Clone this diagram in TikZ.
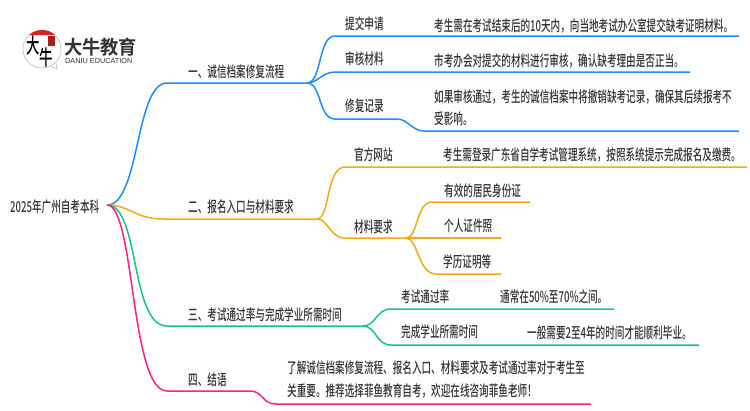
\documentclass[tikz,border=0pt]{standalone}
\usepackage{xcolor}
\usepackage{fontspec}
\setmainfont{Noto Sans CJK SC}
\newfontfamily\cjkthin[FakeStretch=0.64]{Noto Sans CJK SC Medium}
\newfontfamily\cjkbold[FakeStretch=0.95]{Noto Sans CJK SC Bold}
\newfontfamily\logolatin{Liberation Sans}
\definecolor{lineblue}{HTML}{1E8CFA}
\definecolor{lineorange}{HTML}{F5A81C}
\definecolor{linegreen}{HTML}{14C77E}
\definecolor{linepink}{HTML}{FB2283}
\definecolor{inkgrey}{HTML}{333333}
\definecolor{logored}{HTML}{D9231F}
\tikzset{
  lab/.style={anchor=west,inner sep=0pt,yshift=-1.5pt,text=inkgrey,font=\cjkthin\fontsize{15}{22.5}\selectfont},
  bluebr/.style={draw=lineblue,line width=1.5pt},
  orangebr/.style={draw=lineorange,line width=1.5pt},
  greenbr/.style={draw=linegreen,line width=1.5pt},
  pinkbr/.style={draw=linepink,line width=1.5pt},
}
\begin{document}
\begin{tikzpicture}[x=1pt,y=-1pt]
  \useasboundingbox (0,0) rectangle (750,410);
  % logo
  \draw[gray!60,line width=0.5pt,fill=white] (42,49) circle (19);
  \draw[gray!60,line width=0.5pt] (50,66.5) -- (57,68.5) -- (56,63);
  \fill[logored] (29.2,35) arc (227.5:312.5:19) -- cycle;
  \fill[logored!80!black] (47.5,36) rectangle (54.5,46);
  \node[inner sep=0pt,font=\cjkthin\fontsize{21}{21}\selectfont,text=black] (logoa) at (33,45) {大};
  \node[inner sep=0pt,font=\cjkthin\fontsize{21}{21}\selectfont,text=black] (logob) at (46,58) {牛};
  \node[anchor=west,inner sep=0pt,font=\cjkbold\fontsize{19.2}{19}\selectfont,text=inkgrey] (logoname) at (64,47.5) {大牛教育};
  \node[anchor=west,inner sep=0pt,font=\logolatin\fontsize{7.3}{8}\selectfont,text=inkgrey] (logoen) at (65,60.5) {DANIU EDUCATION};
  % root
  \node[lab] (root) at (10,205) {2025年广州自考本科};
  \coordinate (rootend) at (107,205);
  % first level labels
  \node[lab] (bra) at (188,70) {一、诚信档案修复流程};
  \node[lab] (brb) at (188,205) {二、报名入口与材料要求};
  \node[lab] (brc) at (188,313) {三、考试通过率与完成学业所需时间};
  \node[lab] (brd) at (188,378) {四、结语};
  % branch one
  \node[lab] (aone) at (345,22) {提交申请};
  \node[lab] (atwo) at (345,57) {审核材料};
  \node[lab] (athree) at (345,104) {修复记录};
  \node[lab] (aonetext) at (434,24) {考生需在考试结束后的10天内，向当地考试办公室提交缺考证明材料。};
  \node[lab] (atwotext) at (434,59) {市考办会对提交的材料进行审核，确认缺考理由是否正当。};
  \node[lab,align=left] (athreetext) at (434,106) {如果审核通过，考生的诚信档案中将撤销缺考记录，确保其后续报考不\\受影响。};
  \coordinate (aj) at (307,83);
  \coordinate (aend) at (739,36);
  \coordinate (bend) at (690,72);
  \coordinate (cend) at (739,131);
  \draw[bluebr] (rootend) .. controls (140,205) and (135,83) .. (167,83) -- (aj);
  \draw[bluebr] (aj) .. controls (322,83) and (318,36) .. (335,36) -- (aend);
  \draw[bluebr] (aj) .. controls (318,83) and (322,72) .. (335,72) -- (bend);
  \draw[bluebr] (aj) .. controls (322,83) and (318,119) .. (335,119) -- (397,119) .. controls (408,119) and (412,131) .. (424,131) -- (cend);
  % branch two
  \node[lab] (bone) at (354,153) {官方网站};
  \node[lab] (btwo) at (354,225) {材料要求};
  \node[lab] (bonetext) at (443,153) {考生需登录广东省自学考试管理系统，按照系统提示完成报名及缴费。};
  \node[lab] (bx) at (444,189) {有效的居民身份证};
  \node[lab] (by) at (444,224) {个人证件照};
  \node[lab] (bz) at (443,260) {学历证明等};
  \coordinate (bj) at (317,219);
  \coordinate (bk) at (406,238);
  \coordinate (bxend) at (530,202);
  \coordinate (byend) at (501,238);
  \coordinate (bzend) at (501,274);
  \coordinate (boneend) at (747,167);
  \draw[orangebr] (rootend) .. controls (130,205) and (135,219) .. (163,219) -- (bj);
  \draw[orangebr] (bj) .. controls (330,219) and (326,167) .. (345,167) -- (boneend);
  \draw[orangebr] (bj) .. controls (328,219) and (330,238) .. (345,238) -- (bk);
  \draw[orangebr] (bk) .. controls (418,238) and (416,202) .. (432,202) -- (bxend);
  \draw[orangebr] (bk) -- (byend);
  \draw[orangebr] (bk) .. controls (418,238) and (418,274) .. (436,274) -- (bzend);
  % branch three
  \node[lab] (cone) at (401,295) {考试通过率};
  \node[lab] (ctwo) at (401,330) {完成学业所需时间};
  \node[lab] (conetext) at (500,295) {通常在50\%至70\%之间。};
  \node[lab] (ctwotext) at (527,331) {一般需要2至4年的时间才能顺利毕业。};
  \coordinate (cj) at (363,326);
  \coordinate (coneend) at (614,309);
  \coordinate (ctwoend) at (699,345);
  \draw[greenbr] (rootend) .. controls (140,205) and (130,326) .. (167,326) -- (cj);
  \draw[greenbr] (cj) .. controls (376,326) and (376,309) .. (391,309) -- (coneend);
  \draw[greenbr] (cj) .. controls (376,326) and (376,345) .. (391,345) -- (ctwoend);
  % branch four
  \node[lab,align=left] (dtext) at (287,378) {了解诚信档案修复流程、报名入口、材料要求及考试通过率对于考生至\\关重要。推荐选择菲鱼教育自考，欢迎在线咨询菲鱼老师！};
  \coordinate (dj) at (250,391);
  \coordinate (dend) at (591,404);
  \draw[pinkbr] (rootend) .. controls (135,205) and (130,391) .. (167,391) -- (dj) .. controls (263,391) and (262,404) .. (276,404) -- (dend);
\end{tikzpicture}
\end{document}
